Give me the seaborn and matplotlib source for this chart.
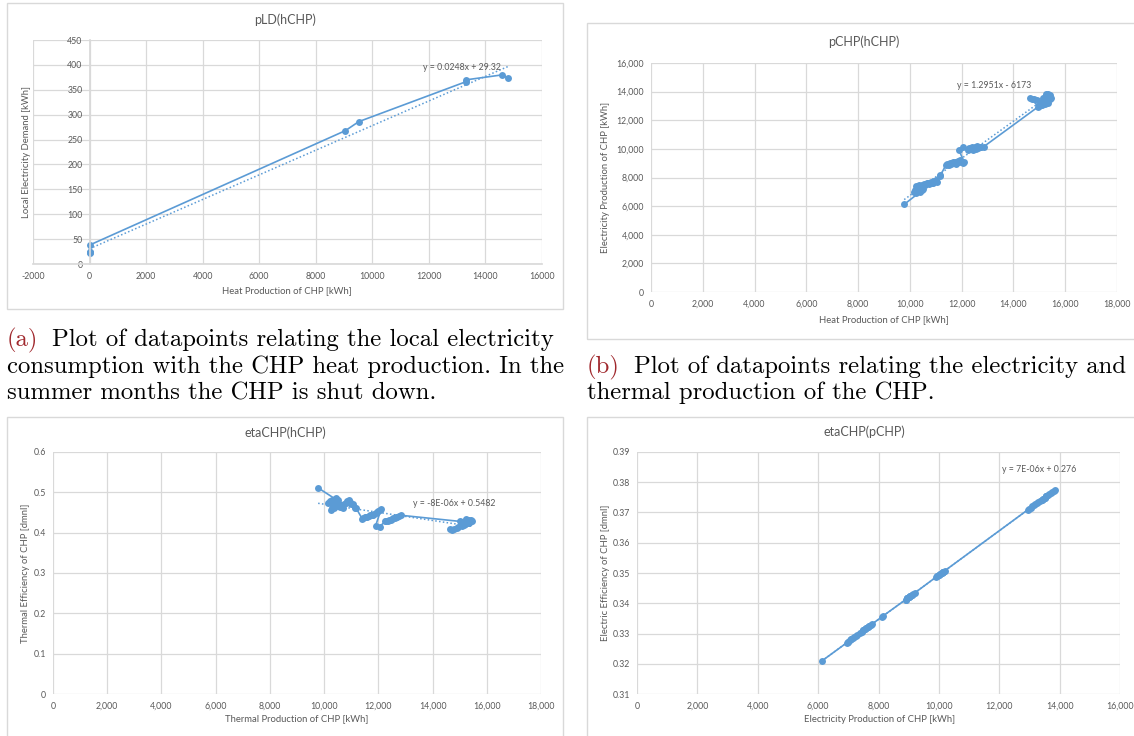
import matplotlib
matplotlib.use("Agg")
import matplotlib.pyplot as plt
from matplotlib.patches import Rectangle
from matplotlib.ticker import FuncFormatter, MultipleLocator
import seaborn as sns

# panel (a): local electricity demand vs heat production
a_heat = [0, 0, 0, 0, 9050, 9520, 13300, 13320, 14600, 14800]
a_demand = [22, 24, 25, 38, 268, 286, 366, 370, 380, 373]

# panels (b), (c), (d): CHP operating points (heat, power, efficiencies)
h_chp = [9780,
         10400, 10350, 10250, 10150, 10200, 10300, 10450, 10500, 10400, 10300, 10250, 10350,
         10450, 10550, 10600, 10650, 10700, 10750, 10800, 10850, 10900, 10950, 11000, 11050,
         11150, 11180,
         11400, 11450, 11500, 11550, 11600, 11650, 11700, 11750, 11800, 11850, 11900, 11950,
         12000, 12050, 12100,
         11900, 12050,
         12250, 12300, 12350, 12400, 12450, 12500, 12550, 12600, 12650, 12700, 12750, 12850,
         15000, 14950, 14700, 14650, 14800, 14900, 15050, 15100, 15150, 15100, 15200, 15250,
         15150, 15200, 15300, 15350, 15300, 15400, 15450, 15400, 15250, 15350, 15200, 15300]
p_chp = [6120,
         7000, 7050, 6950, 7000, 7100, 7150, 7100, 7200, 7250, 7300, 7400, 7450,
         7500, 7550, 7500, 7600, 7650, 7550, 7700, 7600, 7650, 7750, 7800, 7700,
         8100, 8150,
         8900, 8950, 8900, 9000, 8950, 9050, 9000, 9100, 8950, 9150, 9050, 9200,
         9100, 9000, 9050,
         9900, 10150,
         9950, 10050, 10000, 10100, 9950, 10150, 10000, 10200, 10050, 10150, 10100, 10150,
         13000, 12950, 13500, 13550, 13450, 13400, 13100, 13050, 13250, 13300, 13350, 13450,
         13550, 13650, 13700, 13800, 13600, 13500, 13550, 13750, 13850, 13200, 13150, 13400]
eta_th = [0.511,
          0.484, 0.480, 0.476, 0.474, 0.478, 0.482, 0.486, 0.480, 0.470, 0.460, 0.456, 0.462,
          0.466, 0.470, 0.464, 0.468, 0.462, 0.470, 0.474, 0.478, 0.480, 0.476, 0.472, 0.470,
          0.462, 0.461,
          0.435, 0.437, 0.438, 0.440, 0.439, 0.442, 0.443, 0.445, 0.444, 0.447, 0.449, 0.451,
          0.454, 0.457, 0.458,
          0.417, 0.415,
          0.428, 0.429, 0.430, 0.432, 0.431, 0.434, 0.436, 0.437, 0.438, 0.440, 0.441, 0.443,
          0.428, 0.414, 0.407, 0.409, 0.410, 0.412, 0.418, 0.416, 0.419, 0.420, 0.422, 0.424,
          0.426, 0.428, 0.430, 0.432, 0.427, 0.429, 0.430, 0.431, 0.433, 0.423, 0.421, 0.425]
eta_el = [0.3209,
          0.3273, 0.3277, 0.3270, 0.3273, 0.3281, 0.3284, 0.3281, 0.3288, 0.3292, 0.3295, 0.3303, 0.3306,
          0.3310, 0.3314, 0.3310, 0.3317, 0.3321, 0.3314, 0.3325, 0.3317, 0.3321, 0.3328, 0.3332, 0.3325,
          0.3354, 0.3358,
          0.3412, 0.3416, 0.3412, 0.3420, 0.3416, 0.3423, 0.3420, 0.3427, 0.3416, 0.3431, 0.3423, 0.3434,
          0.3427, 0.3420, 0.3423,
          0.3486, 0.3504,
          0.3489, 0.3497, 0.3493, 0.3500, 0.3489, 0.3504, 0.3493, 0.3508, 0.3497, 0.3504, 0.3500, 0.3504,
          0.3713, 0.3709, 0.3749, 0.3753, 0.3746, 0.3742, 0.3720, 0.3716, 0.3731, 0.3735, 0.3738, 0.3746,
          0.3753, 0.3760, 0.3764, 0.3771, 0.3757, 0.3749, 0.3753, 0.3768, 0.3775, 0.3727, 0.3724, 0.3742]

BLUE = "#5B9BD5"
GREY = "#595959"
GRID = "#D9D9D9"
W, H = 1134, 736

sns.set_theme(style="whitegrid")
plt.rcParams["font.family"] = ["Lato", "DejaVu Sans"]
plt.rcParams["axes.unicode_minus"] = False

fig = plt.figure(figsize=(W / 100, H / 100), dpi=100)


def fx(x):
    return x / W


def fy(y):
    return 1 - y / H


def make_axes(x0, y0, x1, y1):
    ax = fig.add_axes([fx(x0), fy(y1), fx(x1) - fx(x0), fy(y0) - fy(y1)])
    ax.set_facecolor("white")
    ax.grid(True, color=GRID, lw=0.9)
    for s in ax.spines.values():
        s.set_visible(False)
    ax.tick_params(length=0, labelsize=6.3, labelcolor=GREY)
    ax.tick_params(axis="x", pad=5.5)
    ax.tick_params(axis="y", pad=5)
    return ax


def draw_series(ax, x, y):
    sns.lineplot(x=x, y=y, sort=False, estimator=None, color=BLUE, lw=1.2,
                 marker="o", markersize=5, markeredgewidth=0, ax=ax)
    sns.regplot(x=x, y=y, scatter=False, ci=None, truncate=True, ax=ax,
                line_kws=dict(ls=(0, (1, 1.5)), lw=1.1, color=BLUE))
    ax.set_xlabel("")
    ax.set_ylabel("")


def frame(x0, y0, x1, y1):
    fig.add_artist(Rectangle((fx(x0), fy(y1)), fx(x1) - fx(x0), fy(y0) - fy(y1),
                             transform=fig.transFigure, fill=False,
                             ec=GRID, lw=1.0))


def label(x, y, s, size=6.8, rot=0):
    fig.text(fx(x), fy(y), s, ha="center", va="center", fontsize=size,
             color=GREY, rotation=rot)


comma = FuncFormatter(lambda v, _: f"{v:,.0f}")

# ---------- (a) ----------
frame(7, 3, 563, 309)
ax = make_axes(33, 40, 542, 264)
draw_series(ax, a_heat, a_demand)
ax.set_xlim(-2000, 16000)
ax.set_ylim(0, 450)
ax.xaxis.set_major_locator(MultipleLocator(2000))
ax.yaxis.set_major_locator(MultipleLocator(50))
ax.spines["left"].set_visible(True)
ax.spines["left"].set_position(("data", 0))
ax.spines["left"].set_color(GRID)
ax.spines["bottom"].set_visible(True)
ax.spines["bottom"].set_color(GRID)
label(285, 20, "pLD(hCHP)", size=9)
label(287, 291, "Heat Production of CHP [kWh]")
label(27, 152, "Local Electricity Demand [kWh]", rot=90)
label(462, 67, "y = 0.0248x + 29.32", size=6.3)

# ---------- (b) ----------
frame(587, 23, 1160, 339)
ax = make_axes(651, 63, 1117, 292)
draw_series(ax, h_chp, p_chp)
ax.set_xlim(0, 18000)
ax.set_ylim(0, 16000)
ax.xaxis.set_major_locator(MultipleLocator(2000))
ax.yaxis.set_major_locator(MultipleLocator(2000))
ax.xaxis.set_major_formatter(comma)
ax.yaxis.set_major_formatter(comma)
label(864, 42, "pCHP(hCHP)", size=9)
label(884, 320, "Heat Production of CHP [kWh]")
label(606, 177, "Electricity Production of CHP [kWh]", rot=90)
label(994, 86, "y = 1.2951x - 6173", size=6.3)

# ---------- (c) ----------
frame(7, 417, 563, 760)
ax = make_axes(53, 452, 541, 694)
draw_series(ax, h_chp, eta_th)
ax.set_xlim(0, 18000)
ax.set_ylim(0, 0.6)
ax.xaxis.set_major_locator(MultipleLocator(2000))
ax.yaxis.set_major_locator(MultipleLocator(0.1))
ax.xaxis.set_major_formatter(comma)
ax.yaxis.set_major_formatter(FuncFormatter(lambda v, _: f"{round(v, 2):g}"))
label(285, 433, "etaCHP(hCHP)", size=9)
label(297, 719, "Thermal Production of CHP [kWh]")
label(26, 573, "Thermal Efficiency of CHP [dmnl]", rot=90)
label(454, 504, "y = -8E-06x + 0.5482", size=6.3)

# ---------- (d) ----------
frame(587, 417, 1160, 760)
ax = make_axes(637, 452, 1120, 694)
draw_series(ax, p_chp, eta_el)
ax.set_xlim(0, 16000)
ax.set_ylim(0.31, 0.39)
ax.xaxis.set_major_locator(MultipleLocator(2000))
ax.yaxis.set_major_locator(MultipleLocator(0.01))
ax.xaxis.set_major_formatter(comma)
ax.yaxis.set_major_formatter(FuncFormatter(lambda v, _: f"{v:.2f}"))
label(864, 432, "etaCHP(pCHP)", size=9)
label(880, 719, "Electricity Production of CHP [kWh]")
label(606, 573, "Electric Efficiency of CHP [dmnl]", rot=90)
label(1039, 469, "y = 7E-06x + 0.276", size=6.3)

# ---------- captions ----------
CAP = dict(fontsize=17.8, family="cmr10", va="center", ha="left")
RED = "#A0282D"
fig.text(fx(7), fy(340), "(a)", color=RED, **CAP)
fig.text(fx(52), fy(340), "Plot of datapoints relating the local electricity", color="black", **CAP)
fig.text(fx(7), fy(367), "consumption with the CHP heat production. In the", color="black", **CAP)
fig.text(fx(7), fy(393), "summer months the CHP is shut down.", color="black", **CAP)
fig.text(fx(587), fy(367), "(b)", color=RED, **CAP)
fig.text(fx(634), fy(367), "Plot of datapoints relating the electricity and", color="black", **CAP)
fig.text(fx(587), fy(393), "thermal production of the CHP.", color="black", **CAP)

fig.savefig("out.png", dpi=100)
